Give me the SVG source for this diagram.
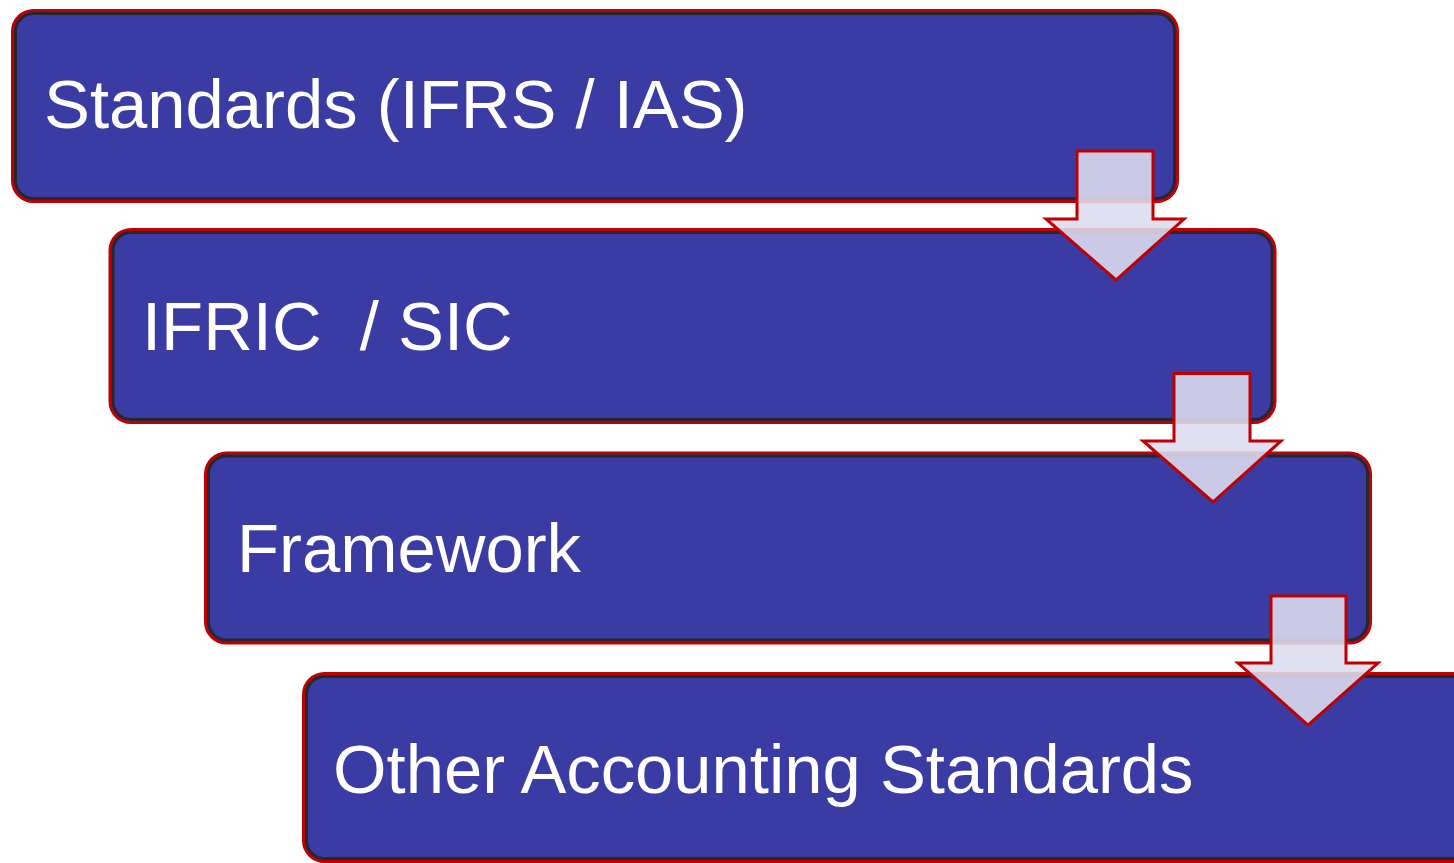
<svg xmlns="http://www.w3.org/2000/svg" width="1454" height="863" viewBox="0 0 1454 863">
<style>
.box{fill:#3b3ca3;stroke:#c00000;stroke-width:3}
.inner{fill:none;stroke:#26262e;stroke-width:3}
.lbl{font-family:"Liberation Sans",Arial,sans-serif;font-size:68.8px;fill:#ffffff}
.arr{fill:#dcdcee;fill-opacity:0.89;stroke:#c00000;stroke-width:3;stroke-linejoin:miter}
</style>
<rect width="1454" height="863" fill="#ffffff"/>
<g id="node1">
<rect class="box" x="12.5" y="10.5" width="1165" height="191" rx="21"/>
<rect class="inner" x="15.5" y="13.5" width="1159" height="185" rx="18"/>
<text class="lbl" x="44" y="128">Standards (IFRS / IAS)</text>
</g>
<g id="node2">
<rect class="box" x="110" y="229.5" width="1165" height="193" rx="21"/>
<rect class="inner" x="113" y="232.5" width="1159" height="187" rx="18"/>
<text class="lbl" x="142" y="350" xml:space="preserve">IFRIC  / SIC</text>
</g>
<g id="node3">
<rect class="box" x="205.5" y="453" width="1165" height="190" rx="21"/>
<rect class="inner" x="208.5" y="456" width="1159" height="184" rx="18"/>
<text class="lbl" x="237" y="572">Framework</text>
</g>
<g id="node4">
<rect class="box" x="303.5" y="673.5" width="1200" height="188" rx="21"/>
<rect class="inner" x="306.5" y="676.5" width="1194" height="182" rx="18"/>
<text class="lbl" x="333" y="793">Other Accounting Standards</text>
</g>
<g id="connectors">
<polygon class="arr" points="1077,151 1153,151 1153,219 1184,219 1116,280 1046,219 1077,219"/>
<polygon class="arr" points="1174,373.5 1250,373.5 1250,441 1281,441 1213,502 1143,441 1174,441"/>
<polygon class="arr" points="1271,596 1346,596 1346,663 1378,663 1308,725 1238,663 1271,663"/>
</g>
</svg>
